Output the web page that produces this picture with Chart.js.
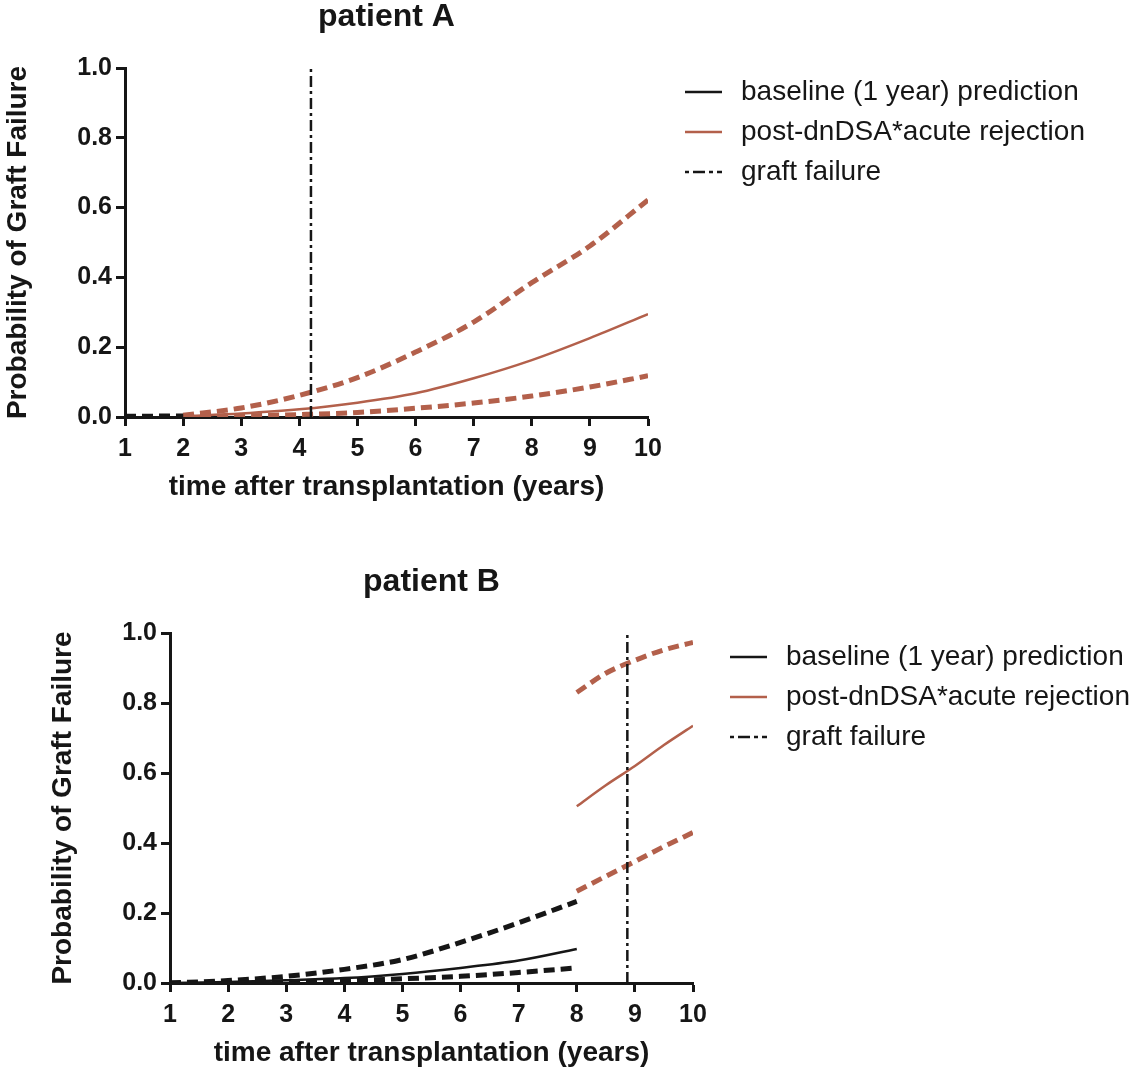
<!DOCTYPE html>
<html>
<head>
<meta charset="utf-8">
<script src="https://cdn.jsdelivr.net/npm/chart.js@4.4.1/dist/chart.umd.min.js"></script>
<style>
    body { margin: 0; background: #fff; }
    .wrap { position: absolute; left: 0; }
</style>
</head>
<body>
<div class="wrap" style="top:0"><canvas id="chartA" width="1134" height="530"></canvas></div>
<div class="wrap" style="top:530px"><canvas id="chartB" width="1134" height="545"></canvas></div>
<script>
// axis ticks
const xTicks = [1, 2, 3, 4, 5, 6, 7, 8, 9, 10];
const yTicks = [0, 0.2, 0.4, 0.6, 0.8, 1.0];
const legendLabels = ['baseline (1 year) prediction', 'post-dnDSA*acute rejection', 'graft failure'];

// patient A
const aBaseYears = [1, 2];
const aBaseUpper = [0.002, 0.003];
const aBaseLower = [0.001, 0.001];
const aPostYears = [2, 3, 4, 5, 6, 7, 8, 9, 10];
const aPostMid   = [0.002, 0.010, 0.022, 0.041, 0.068, 0.111, 0.163, 0.226, 0.295];
const aPostUpper = [0.005, 0.026, 0.062, 0.113, 0.186, 0.272, 0.385, 0.490, 0.622];
const aPostLower = [0.001, 0.003, 0.007, 0.013, 0.025, 0.040, 0.060, 0.086, 0.118];
const aFailure = 4.2;

// patient B
const bBaseYears = [1, 2, 3, 4, 5, 6, 7, 8];
const bBaseMid   = [0.000, 0.003, 0.008, 0.014, 0.026, 0.043, 0.064, 0.097];
const bBaseUpper = [0.000, 0.007, 0.019, 0.039, 0.067, 0.116, 0.172, 0.233];
const bBaseLower = [0.000, 0.001, 0.003, 0.007, 0.012, 0.019, 0.030, 0.043];
const bPostYears = [8, 8.5, 9, 9.5, 10];
const bPostMid   = [0.505, 0.565, 0.620, 0.680, 0.735];
const bPostUpper = [0.830, 0.885, 0.922, 0.952, 0.973];
const bPostLower = [0.262, 0.305, 0.347, 0.390, 0.430];
const bFailure = 8.87;

const BLACK = '#161616';
const BROWN = '#B3604B';
const FONT = '"Liberation Sans", Arial, sans-serif';
const legendStyles = [
    { color: BLACK, dash: [] },
    { color: BROWN, dash: [] },
    { color: BLACK, dash: [4, 4, 12, 4] }
];

function pts(xs, ys) {
    return xs.map((x, i) => ({ x: x, y: ys[i] }));
}

function curve(xs, ys, color, dashed) {
    return {
        data: pts(xs, ys),
        borderColor: color,
        borderWidth: dashed ? 5 : 2.5,
        borderDash: dashed ? [11, 6] : [],
        pointRadius: 0,
        cubicInterpolationMode: 'monotone',
        fill: false
    };
}

function failureLine(x) {
    return {
        data: pts([x, x], [0, 1]),
        borderColor: BLACK,
        borderWidth: 2.5,
        borderDash: [11, 4, 3, 4],
        pointRadius: 0
    };
}

// title and legend, placed relative to the plot area
const overlay = {
    id: 'overlay',
    afterDraw(chart, args, opts) {
        const { ctx, chartArea: a } = chart;
        ctx.save();
        ctx.fillStyle = BLACK;
        ctx.textAlign = 'center';
        ctx.textBaseline = 'middle';
        ctx.font = 'bold 32px ' + FONT;
        ctx.fillText(opts.title, (a.left + a.right) / 2, a.top - 51);

        ctx.textAlign = 'left';
        ctx.font = '28px ' + FONT;
        legendLabels.forEach((label, i) => {
            const y = a.top + 24 + i * 40;
            ctx.beginPath();
            ctx.strokeStyle = legendStyles[i].color;
            ctx.lineWidth = 2.5;
            ctx.setLineDash(legendStyles[i].dash);
            ctx.moveTo(a.right + 37, y);
            ctx.lineTo(a.right + 74, y);
            ctx.stroke();
            ctx.setLineDash([]);
            ctx.fillText(label, a.right + 93, y);
        });
        ctx.restore();
    }
};

function options(title, padding) {
    const grid = { display: true, drawOnChartArea: false, drawTicks: true, tickLength: 9, tickWidth: 3, tickColor: BLACK };
    const border = { display: true, width: 3, color: BLACK };
    return {
        responsive: false,
        animation: false,
        devicePixelRatio: 1,
        layout: { padding: padding },
        plugins: {
            legend: { display: false },
            tooltip: { enabled: false },
            overlay: { title: title }
        },
        scales: {
            x: {
                type: 'linear', min: 1, max: 10,
                afterBuildTicks: s => { s.ticks = xTicks.map(v => ({ value: v })); },
                afterFit: s => { s.height = 90; },
                grid: grid, border: border,
                ticks: { color: BLACK, padding: 8, maxRotation: 0, autoSkip: false, font: { family: FONT, size: 25, weight: 'bold' } },
                title: { display: true, text: 'time after transplantation (years)', color: BLACK, padding: { top: 0, bottom: 3 }, font: { family: FONT, size: 28, weight: 'bold' } }
            },
            y: {
                type: 'linear', min: 0, max: 1,
                afterBuildTicks: s => { s.ticks = yTicks.map(v => ({ value: v })); },
                afterFit: s => { s.width = 125; },
                grid: grid, border: border,
                ticks: { color: BLACK, padding: 4, callback: v => v.toFixed(1), font: { family: FONT, size: 25, weight: 'bold' } },
                title: { display: true, text: 'Probability of Graft Failure', color: BLACK, padding: { top: 1, bottom: 0 }, font: { family: FONT, size: 28, weight: 'bold' } }
            }
        }
    };
}

document.addEventListener('DOMContentLoaded', function() {
    // Patient A
    const ctxA = document.getElementById('chartA').getContext('2d');
    const chartA = new Chart(ctxA, {
        type: 'line',
        data: {
            datasets: [
                failureLine(aFailure),
                curve(aBaseYears, aBaseUpper, BLACK, true),
                curve(aBaseYears, aBaseLower, BLACK, true),
                curve(aPostYears, aPostMid, BROWN, false),
                curve(aPostYears, aPostUpper, BROWN, true),
                curve(aPostYears, aPostLower, BROWN, true)
            ]
        },
        options: options('patient A', { left: 0, top: 68, right: 486, bottom: 23 }),
        plugins: [overlay]
    });

    // Patient B
    const ctxB = document.getElementById('chartB').getContext('2d');
    const chartB = new Chart(ctxB, {
        type: 'line',
        data: {
            datasets: [
                failureLine(bFailure),
                curve(bBaseYears, bBaseMid, BLACK, false),
                curve(bBaseYears, bBaseUpper, BLACK, true),
                curve(bBaseYears, bBaseLower, BLACK, true),
                curve(bPostYears, bPostMid, BROWN, false),
                curve(bPostYears, bPostUpper, BROWN, true),
                curve(bPostYears, bPostLower, BROWN, true)
            ]
        },
        options: options('patient B', { left: 45, top: 103, right: 441, bottom: 2 }),
        plugins: [overlay]
    });
});
</script>
</body>
</html>
